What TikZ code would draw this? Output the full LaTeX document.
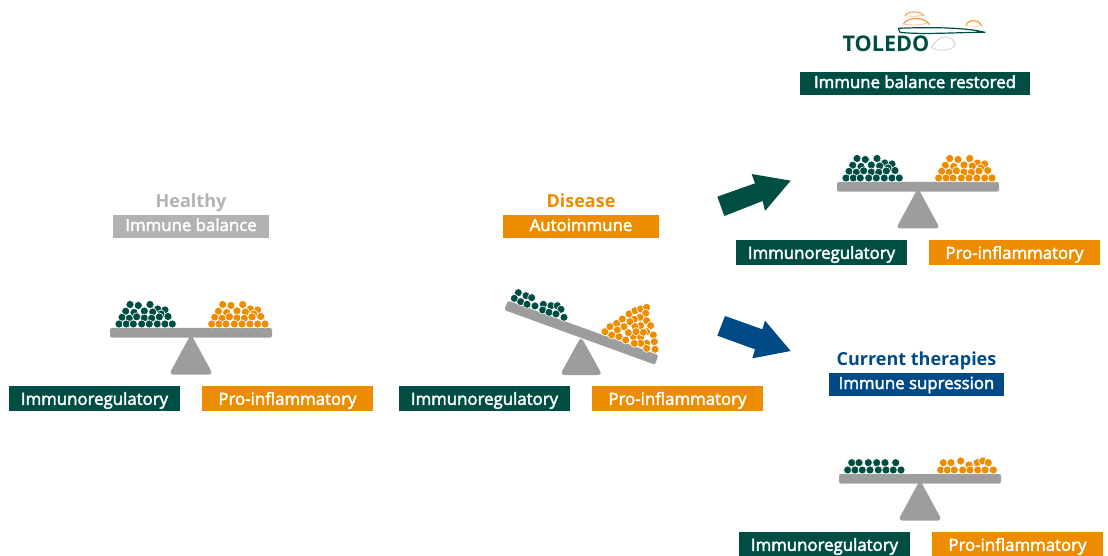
\documentclass[tikz,border=0pt]{standalone}
\usepackage{fontspec}
\setmainfont{Open Sans}
\newfontfamily\semi[FakeBold=2.5]{Open Sans}
\definecolor{tgreen}{HTML}{004D43}
\definecolor{torange}{HTML}{EE8C00}
\definecolor{tlogo}{HTML}{F4A24A}
\definecolor{tgray}{HTML}{9D9D9D}
\definecolor{tlight}{HTML}{B2B2B2}
\definecolor{tblue}{HTML}{004A87}
\tikzset{
  px/.style={x=0.75pt,y=-0.75pt},
  zoomed/.style={x=0.25pt,y=-0.25pt},
  lab/.style={inner sep=0pt,outer sep=0pt,text=white,font=\semi\fontsize{12.6}{14}\selectfont,text height=12.5pt,text depth=3pt,minimum height=18.75pt,anchor=center},
  labs/.style={lab,text height=9.8pt,minimum height=17.25pt},
  labw/.style={lab,minimum width=128.25pt},
  head/.style={inner sep=0pt,font=\bfseries\fontsize{13.5}{15}\selectfont,text height=14pt,text depth=3pt,anchor=center},
  beam/.style={fill=tgray,rounded corners=1.5pt},
  fulcrum/.style={fill=tgray,rounded corners=3pt},
  ballg/.style={fill=tgreen,draw=white,line width=0.45pt},
  ballo/.style={fill=torange,draw=white,line width=0.45pt}
}
% the full pile, drawn relative to the left end of the beam's top edge
\newcommand{\pilelist}[2]{%
  \foreach \p/\q in {20/-23.5,28.3/-22.5,40/-23.5,47.7/-19,55/-18,
     15.7/-16.8,24/-15.5,34.3/-17,42.7/-16,51/-14,58/-11.5,
     12/-10.7,19.3/-9.7,26.7/-11.2,34.3/-10,41.7/-9.7,49.3/-11,
     9/-4,16.3/-4,23.3/-4,31.7/-4,39.3/-4,47.3/-4,55/-4,62.3/-4}
     \path[#1] ({\p+#2},\q) circle[radius=4.05];}
\newcommand{\fullpile}[2]{%
 \begin{scope}[shift={(#1,#2)}]
  \pilelist{ballg}{0}
  \pilelist{ballo}{92.7}
 \end{scope}}
% level beam with its fulcrum
\newcommand{\scalebase}[2]{%
 \begin{scope}[shift={(#1,#2)}]
  \path[fulcrum] (81,6) -- (103,46.5) -- (59,46.5) -- cycle;
  \path[beam] (0,0) rectangle (162,9.6);
 \end{scope}}
\begin{document}
\begin{tikzpicture}[px]
\useasboundingbox (0,0) rectangle (1108,556);
% logo
\begin{scope}[shift={(830,0)},zoomed,line join=round,line cap=round]
  \draw[tlogo,line width=0.8pt] (225,47) .. controls (232,32) and (272,32) .. (282,47);
  \draw[tlogo!60,line width=0.6pt] (225,47) .. controls (240,50) and (265,50) .. (280,45);
  \draw[tlogo,line width=1pt] (220,72) .. controls (232,50) and (285,50) .. (298,73);
  \draw[tlogo!60,line width=0.6pt] (220,72) .. controls (240,76) and (270,76) .. (290,70);
  \draw[tlogo,line width=1pt] (408,76) .. controls (418,56) and (445,56) .. (455,78);
  \draw[tlogo!50,line width=0.5pt] (408,76) .. controls (420,80) and (440,80) .. (452,77);
  \draw[gray!35,line width=0.7pt] (305,143) .. controls (325,100) and (365,105) .. (375,130) .. controls (375,150) and (330,158) .. (305,143);
  \draw[tgreen,line width=0.9pt] (205,85) .. controls (270,82) and (400,80) .. (465,97) .. controls (400,96) and (280,105) .. (210,97) -- cycle;
\end{scope}
\node[inner sep=0pt,text=tgreen,font=\bfseries\fontsize{16.2}{18}\selectfont] (logo) at (886,44) {TOLEDO};
% headers and bands
\node[head,text=tlight] (healthy) at (191,200.5) {Healthy};
\node[labs,fill=tlight,minimum width=117pt] (balance) at (191,226.5) {Immune balance};
\node[head,text=torange] (disease) at (581,200.5) {Disease};
\node[labs,fill=torange,minimum width=117pt] (auto) at (581,226.5) {Autoimmune};
\node[labs,fill=tgreen,minimum width=172.5pt] (restored) at (915,83.5) {Immune balance restored};
\node[head,text=tblue] (current) at (916.5,358.5) {Current therapies};
\node[labs,fill=tblue,minimum width=131.25pt] (supp) at (916.5,384.5) {Immune supression};
% pair labels
\node[labw,fill=tgreen] (ia) at (94.5,398.5) {Immunoregulatory};
\node[labw,fill=torange] (pa) at (287.5,398.5) {Pro-inflammatory};
\node[labw,fill=tgreen] (ib) at (484.5,398.5) {Immunoregulatory};
\node[labw,fill=torange] (pb) at (677.5,398.5) {Pro-inflammatory};
\node[labw,fill=tgreen] (ic) at (821.5,252.5) {Immunoregulatory};
\node[labw,fill=torange] (pc) at (1014.5,252.5) {Pro-inflammatory};
\node[labw,fill=tgreen] (id) at (824.5,544.5) {Immunoregulatory};
\node[labw,fill=torange] (pd) at (1017.5,544.5) {Pro-inflammatory};
% balanced scales
\scalebase{110}{328}
\fullpile{110}{328}
\scalebase{837}{182}
\fullpile{837}{182}
% suppressed scale
\scalebase{839}{474}
\begin{scope}[shift={(839,474)}]
  \foreach \p/\q in {12.7/-11.3,20/-11.3,29.3/-11.3,37.7/-11.3,46/-11.3,56.7/-11.3,
    8.7/-4,16/-4,23.3/-4,31/-4,39.3/-4,47/-4,54.3/-4,62/-4}
    \path[ballg] (\p,\q) circle[radius=4.05];
  \foreach \p/\q in {104.3/-11.3,112/-11.3,121.7/-13,130/-9,138.3/-11.3,143.7/-13,149.3/-11.3,
    101.7/-4,108.3/-4,115.3/-4,123.7/-4,131/-4,138.7/-4,146/-4,154.3/-4}
    \path[ballo] (\p,\q) circle[radius=4.05];
\end{scope}
% tilted scale
\begin{scope}[shift={(495,280)},zoomed]
  \path[fulcrum] (258,170) -- (322,285) -- (195,285) -- cycle;
  \path[fill=tgray,rounded corners=1.5pt] (38,62) -- (490,225) -- (480,254) -- (28,90) -- cycle;
  \foreach \p/\q in {70/38,93/47,110/53,58/55,77/65,96/73,120/78,145/73,168/77,187/77,198/88,143/90,162/97,183/102,207/112}
    \path[ballg] (\p,\q) circle[radius=12];
  \foreach \p/\q in {330/155,345/140,365/130,382/117,402/102,420/92,437/87,455/82,452/100,435/112,418/118,405/125,455/122,467/137,437/137,420/140,387/140,367/150,350/165,372/170,392/180,415/170,437/172,455/155,475/165,445/157,400/158,423/155,478/185,455/190,480/208,455/205,437/190,418/190}
    \path[ballo] (\p,\q) circle[radius=12];
\end{scope}
% block arrows
\begin{scope}[shift={(710,165)},zoomed]
  \fill[tgreen] (22,95) -- (43,153) -- (158,108) -- (165,138) -- (242,47) -- (125,27) -- (135,55) -- cycle;
  \fill[tblue] (45,453) -- (22,512) -- (135,553) -- (127,580) -- (242,558) -- (165,467) -- (157,493) -- cycle;
\end{scope}
\end{tikzpicture}
\end{document}
